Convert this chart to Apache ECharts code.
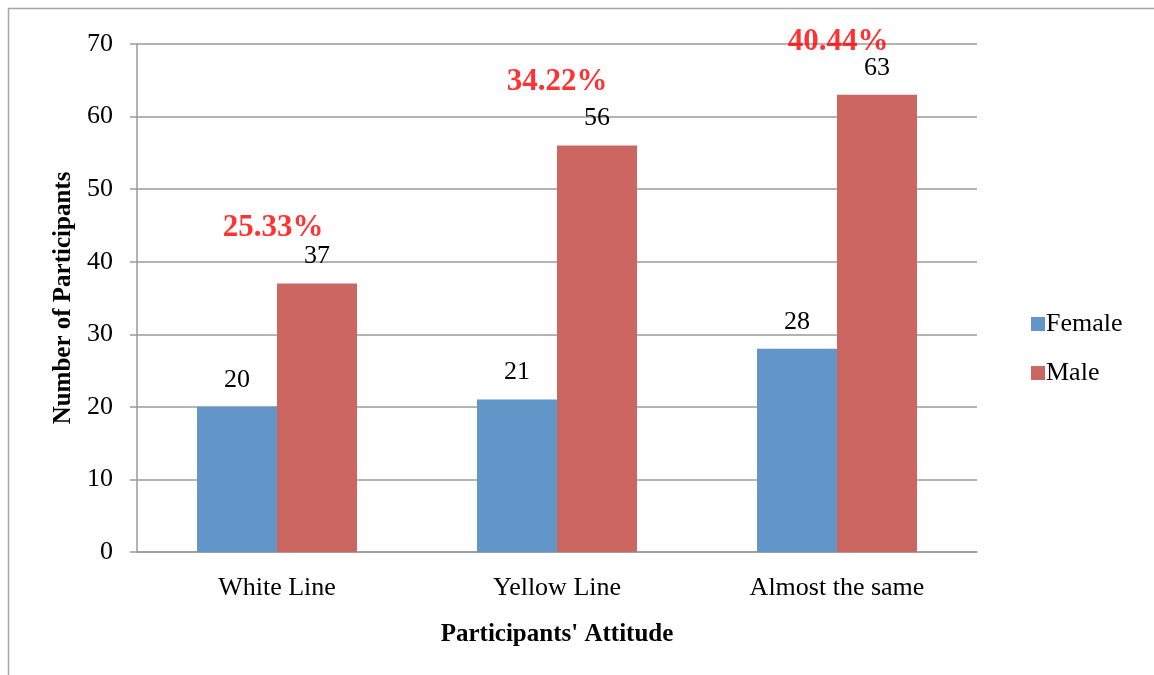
<!DOCTYPE html>
<html>
<head>
<meta charset="utf-8">
<script src="https://cdn.jsdelivr.net/npm/echarts@6/dist/echarts.min.js"></script>
<style>
html,body{margin:0;padding:0;background:#fff;}
#chart{width:1154px;height:675px;}
</style>
</head>
<body>
<div id="chart"></div>
<script>
const categories = ['White Line', 'Yellow Line', 'Almost the same'];
const femaleValues = [20, 21, 28];
const maleValues = [37, 56, 63];
const percentLabels = ['25.33%', '34.22%', '40.44%'];
const yTicks = [0, 10, 20, 30, 40, 50, 60, 70];

const FONT = '"Liberation Serif", "Times New Roman", serif';
const pctOffsets = [[-4, -56], [0, -64], [1, -53]];
const chart = echarts.init(document.getElementById('chart'), null, {renderer: 'canvas'});

chart.setOption({
  backgroundColor: '#fff',
  animation: false,
  graphic: [{
    type: 'rect',
    shape: {x: 8.5, y: 8.5, width: 1300, height: 800},
    style: {fill: 'none', stroke: '#a6a6a6', lineWidth: 1.5},
    silent: true
  }],
  grid: {left: 137, right: 177, top: 44, bottom: 123},
  legend: {
    orient: 'vertical',
    left: 1026,
    top: 306,
    itemWidth: 14,
    itemHeight: 14,
    itemGap: 23,
    icon: 'rect',
    textStyle: {fontFamily: FONT, fontSize: 26, color: '#000', padding: [0, 0, 0, -4]},
    data: ['Female', 'Male']
  },
  xAxis: {
    type: 'category',
    data: categories,
    name: "Participants' Attitude",
    nameLocation: 'middle',
    nameGap: 70,
    nameTextStyle: {fontFamily: FONT, fontSize: 25, fontWeight: 'bold', color: '#000'},
    axisLine: {lineStyle: {color: '#9a9a9a', width: 1.5}},
    axisTick: {show: false},
    axisLabel: {fontFamily: FONT, fontSize: 26, color: '#000', margin: 23}
  },
  yAxis: {
    type: 'value',
    min: yTicks[0],
    max: yTicks[yTicks.length - 1],
    interval: 10,
    name: 'Number of Participants',
    nameLocation: 'middle',
    nameGap: 57,
    nameRotate: 90,
    nameTextStyle: {fontFamily: FONT, fontSize: 25, fontWeight: 'bold', color: '#000'},
    axisLine: {show: true, lineStyle: {color: '#9a9a9a', width: 1.5}},
    axisTick: {show: true, length: 7, lineStyle: {color: '#9a9a9a', width: 1.5}},
    axisLabel: {fontFamily: FONT, fontSize: 26, color: '#000', margin: 24},
    splitLine: {show: true, lineStyle: {color: '#9a9a9a', width: 1.5}}
  },
  series: [
    {
      name: 'Female',
      type: 'bar',
      data: femaleValues,
      barWidth: 80,
      barGap: '0%',
      itemStyle: {color: '#6296c9'},
      label: {show: true, position: 'top', distance: 14, fontFamily: FONT, fontSize: 26, color: '#000'}
    },
    {
      name: 'Male',
      type: 'bar',
      data: maleValues,
      barWidth: 80,
      barGap: '0%',
      itemStyle: {color: '#cc6660'},
      label: {show: true, position: 'top', distance: 14, fontFamily: FONT, fontSize: 26, color: '#000'}
    },
    {
      name: 'pct',
      type: 'scatter',
      data: maleValues.map((v, i) => ({
        value: v,
        label: {offset: pctOffsets[i]}
      })),
      symbolSize: 0,
      silent: true,
      z: 10,
      label: {
        show: true,
        position: 'inside',
        formatter: p => percentLabels[p.dataIndex],
        fontFamily: FONT,
        fontSize: 31,
        fontWeight: 'bold',
        color: '#ff0000'
      }
    }
  ]
});
</script>
</body>
</html>
